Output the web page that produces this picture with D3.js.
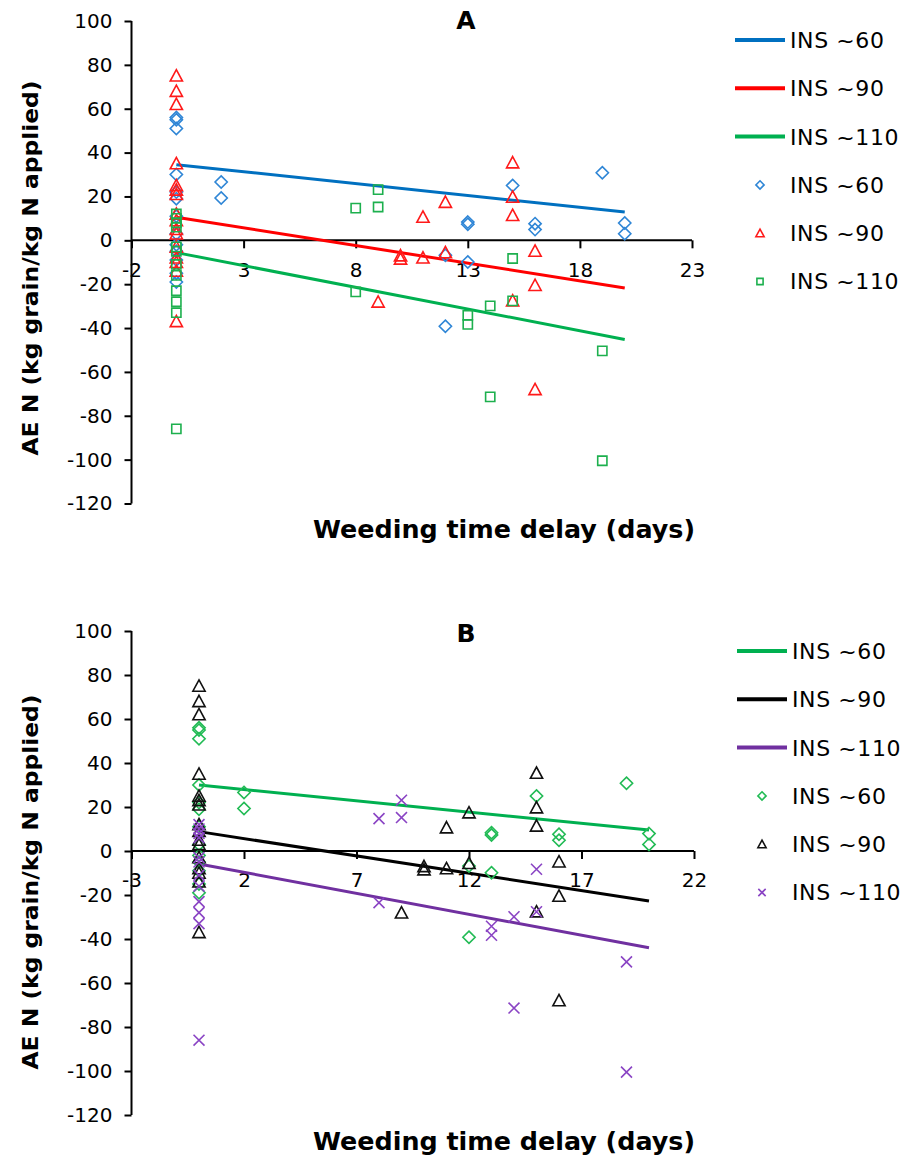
<!DOCTYPE html>
<html>
<head>
<meta charset="utf-8">
<script src="https://cdn.jsdelivr.net/npm/d3@7"></script>
<style>
  body { margin: 0; background: #fff; }
  svg { font-family: "DejaVu Sans", Verdana, sans-serif; }
</style>
</head>
<body>
<svg id="chart" width="917" height="1159"></svg>
<script>
// Points: [weeding delay (days), AE N]
const ins60 = [
  [0, 56], [0, 55], [0, 51], [0, 30], [0, 22], [0, 19], [0, 11], [0, 3], [0, -2], [0, -5], [0, -9], [0, -15], [0, -19],
  [2, 26.6], [2, 19.3], [12, -6.8], [12, -39.2], [13, 8.3], [13, 7.3], [13, -9.9], [15, 25],
  [16, 7.6], [16, 4.9], [19, 30.8], [20, 7.9], [20, 3.0]
];
const ins90 = [
  [0, 75], [0, 68], [0, 62], [0, 35], [0, 25], [0, 23], [0, 21], [0, 12], [0, 9], [0, 5], [0, 3],
  [0, -3], [0, -8], [0, -10], [0, -14], [0, -37],
  [9, -28.1], [10, -7], [10, -8.5], [11, 10.6], [11, -8], [12, 17.4], [12, -5.6],
  [15, 35.4], [15, 19.7], [15, 11.4], [15, -27.6], [16, -4.9], [16, -20.5], [16, -68]
];
const ins110 = [
  [0, 12], [0, 10], [0, 8], [0, 6], [0, -3], [0, -5], [0, -11], [0, -16], [0, -23], [0, -28], [0, -33], [0, -86],
  [8, 14.7], [8, -23.5], [9, 23.1], [9, 15.2], [13, -34.2], [13, -38.3], [14, -29.9], [14, -71.4],
  [15, -8.3], [15, -27.6], [19, -50.4], [19, -100.5]
];

// trend lines, start / end
const trendA = [
  [[0, 34.5], [20, 12.9]],
  [[0, 10.5], [20, -21.7]],
  [[0, -5.6], [20, -45.2]]
];
const trendB = [
  [[0, 30], [20, 9.5]],
  [[0, 8.8], [20, -22.7]],
  [[0, -5.9], [20, -44]]
];

const seriesNames = ["INS ~60", "INS ~90", "INS ~110"];
const yTicks = [100, 80, 60, 40, 20, 0, -20, -40, -60, -80, -100, -120];
const xTicksA = [-2, 3, 8, 13, 18, 23];
const xTicksB = [-3, 2, 7, 12, 17, 22];

// marker shapes (Excel style)
const diamond = { draw(c, s) { const r = Math.sqrt(s) / 2; c.moveTo(0, -r); c.lineTo(r, 0); c.lineTo(0, r); c.lineTo(-r, 0); c.closePath(); } };
const triangle = { draw(c, s) { const r = Math.sqrt(s) / 2; c.moveTo(0, -r); c.lineTo(r, r * 0.85); c.lineTo(-r, r * 0.85); c.closePath(); } };
const square = { draw(c, s) { const r = Math.sqrt(s) / 2; c.rect(-r, -r, 2 * r, 2 * r); } };
const cross = { draw(c, s) { const r = Math.sqrt(s) / 2; c.moveTo(-r, -r); c.lineTo(r, r); c.moveTo(r, -r); c.lineTo(-r, r); } };

const svg = d3.select("#chart");

function drawPanel(cfg) {
  const x = d3.scaleLinear().domain(cfg.xDomain).range(cfg.xRange);
  const y = d3.scaleLinear().domain([-120, 100]).range(cfg.yRange);
  const g = svg.append("g");

  // y axis
  const yAxis = g.append("g")
    .attr("transform", `translate(${x(cfg.xDomain[0])},0)`)
    .call(d3.axisLeft(y).tickValues(yTicks).tickSize(7).tickPadding(12).tickFormat(d => String(d)));
  yAxis.select(".domain").attr("stroke", "#000").attr("stroke-width", 2).attr("d", `M0,${y(100)}V${y(-120)}`);
  yAxis.selectAll(".tick line").attr("stroke-width", 2);
  yAxis.selectAll(".tick text").attr("font-size", 20).attr("font-family", "DejaVu Sans").attr("fill", "#000");

  // x axis crossing at zero
  const xAxis = g.append("g")
    .attr("transform", `translate(0,${y(0)})`)
    .call(d3.axisBottom(x).tickValues(cfg.xTicks).tickSize(8).tickPadding(14).tickFormat(d => String(d)));
  xAxis.select(".domain").attr("stroke", "#000").attr("stroke-width", 2).attr("d", `M${x(cfg.xDomain[0])},0H${x(cfg.xDomain[1])}`);
  xAxis.selectAll(".tick line").attr("stroke-width", 2);
  xAxis.selectAll(".tick text").attr("font-size", 20).attr("font-family", "DejaVu Sans").attr("fill", "#000");

  // trend lines
  const line = d3.line().x(d => x(d[0])).y(d => y(d[1]));
  cfg.trends.forEach((t, i) => {
    g.append("path").datum(t).attr("d", line)
      .attr("fill", "none").attr("stroke", cfg.lineColors[i]).attr("stroke-width", 3);
  });

  // points
  const sets = [ins60, ins90, ins110];
  sets.forEach((pts, i) => {
    const sym = d3.symbol().type(cfg.shapes[i]).size(cfg.sizes[i]);
    g.selectAll(null).data(pts).enter().append("path")
      .attr("d", sym)
      .attr("transform", d => `translate(${x(d[0])},${y(d[1])})`)
      .attr("fill", "none")
      .attr("stroke", cfg.markColors[i])
      .attr("stroke-width", 1.6);
  });

  // titles
  g.append("text").attr("x", 466).attr("y", cfg.titleY).attr("text-anchor", "middle")
    .attr("font-weight", "bold").attr("font-size", 25).text(cfg.label);
  g.append("text").attr("x", 504).attr("y", cfg.xTitleY).attr("text-anchor", "middle")
    .attr("font-weight", "bold").attr("font-size", 24)
    .attr("textLength", 382).attr("lengthAdjust", "spacingAndGlyphs")
    .text("Weeding time delay (days)");
  g.append("text").attr("transform", `translate(38,${cfg.yTitleC}) rotate(-90)`).attr("text-anchor", "middle")
    .attr("font-weight", "bold").attr("font-size", 22)
    .attr("textLength", 375).attr("lengthAdjust", "spacingAndGlyphs")
    .text("AE N (kg grain/kg N applied)");

  // legend
  const leg = g.append("g").attr("transform", `translate(${cfg.legX},${cfg.legY})`);
  seriesNames.forEach((n, i) => {
    const row = leg.append("g").attr("transform", `translate(0,${i * 48.3})`);
    row.append("line").attr("x1", 0).attr("x2", 50).attr("stroke", cfg.lineColors[i]).attr("stroke-width", 4);
    row.append("text").attr("x", 55).attr("dy", "0.36em").attr("font-size", 22).attr("letter-spacing", 0.6).text(n);
  });
  seriesNames.forEach((n, i) => {
    const row = leg.append("g").attr("transform", `translate(0,${(i + 3) * 48.3})`);
    const sym = d3.symbol().type(cfg.shapes[i]).size(cfg.sizes[i] * 0.45);
    row.append("path").attr("d", sym).attr("transform", "translate(25,0)")
      .attr("fill", "none").attr("stroke", cfg.markColors[i]).attr("stroke-width", 1.6);
    row.append("text").attr("x", 55).attr("dy", "0.36em").attr("font-size", 22).attr("letter-spacing", 0.6).text(n);
  });
}

drawPanel({
  label: "A",
  xDomain: [-2, 23], xRange: [131.5, 692],
  yRange: [503.5, 21],
  xTicks: xTicksA,
  trends: trendA,
  lineColors: ["#0070C0", "#FF0000", "#00B050"],
  markColors: ["#2F86D6", "#FF1A1A", "#1DB04E"],
  shapes: [diamond, triangle, square],
  sizes: [150, 150, 85],
  titleY: 29, xTitleY: 538, yTitleC: 268,
  legX: 735, legY: 40
});

drawPanel({
  label: "B",
  xDomain: [-3, 22], xRange: [131.5, 694],
  yRange: [1115, 631],
  xTicks: xTicksB,
  trends: trendB,
  lineColors: ["#00B050", "#000000", "#7030A0"],
  markColors: ["#22BB55", "#111111", "#8A44C4"],
  shapes: [diamond, triangle, cross],
  sizes: [150, 150, 120],
  titleY: 642, xTitleY: 1150, yTitleC: 882,
  legX: 737, legY: 651
});
</script>
</body>
</html>
